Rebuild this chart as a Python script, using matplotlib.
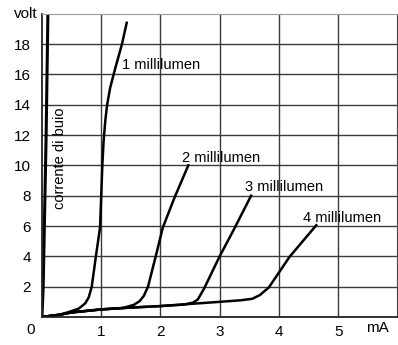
import matplotlib
matplotlib.use("Agg")
import matplotlib.pyplot as plt

plt.rcParams['font.family'] = ['Liberation Sans', 'DejaVu Sans']

# dark current (corrente di buio)
buio_x = [0.0, 0.02, 0.04, 0.07, 0.10]
buio_y = [0.0, 2.0, 6.0, 12.0, 20.0]

# curves, mA vs volt
c1_x = [0.0, 0.3, 0.47, 0.62, 0.73, 0.79, 0.84, 0.91, 0.98, 1.0, 1.02, 1.04, 1.07, 1.1, 1.15, 1.23, 1.35, 1.43]
c1_y = [0.0, 0.15, 0.35, 0.55, 0.9, 1.3, 2.0, 4.0, 5.9, 8.0, 10.1, 11.6, 13.0, 14.0, 15.1, 16.3, 18.0, 19.4]

c2_x = [0.0, 0.3, 0.5, 1.0, 1.37, 1.55, 1.65, 1.72, 1.79, 1.92, 2.04, 2.24, 2.47]
c2_y = [0.0, 0.15, 0.3, 0.5, 0.6, 0.8, 1.05, 1.4, 2.0, 4.0, 5.9, 7.9, 10.0]

c3_x = [0.0, 0.3, 0.5, 1.0, 1.5, 2.0, 2.4, 2.55, 2.63, 2.74, 2.99, 3.25, 3.53]
c3_y = [0.0, 0.15, 0.3, 0.5, 0.62, 0.72, 0.82, 0.95, 1.15, 1.9, 3.93, 5.85, 8.0]

c4_x = [0.0, 0.3, 0.5, 1.0, 1.5, 2.0, 2.5, 3.0, 3.35, 3.55, 3.68, 3.83, 4.18, 4.63]
c4_y = [0.0, 0.15, 0.3, 0.5, 0.62, 0.72, 0.86, 1.0, 1.1, 1.2, 1.45, 1.95, 3.97, 6.05]

labels = ['1 millilumen', '2 millilumen', '3 millilumen', '4 millilumen']
label_x = [1.35, 2.36, 3.43, 4.40]
label_y = [16.6, 10.5, 8.6, 6.5]

xticks = [1, 2, 3, 4, 5]
yticks = [2, 4, 6, 8, 10, 12, 14, 16, 18]
ytick_labels = ['2', '4', '6', '8', '10', '12', '14', '16', '18']

fig = plt.figure(figsize=(3.98, 3.45), dpi=100)
ax = fig.add_axes([0.1055, 0.0812, 0.893, 0.879])

ax.set_xlim(0, 6)
ax.set_ylim(0, 20)
ax.set_xticks(xticks)
ax.set_yticks(yticks)
ax.set_yticklabels(ytick_labels)
ax.grid(True, color='#3a3a3a', lw=1.0)
ax.tick_params(length=0, labelsize=11)
ax.tick_params(axis='y', pad=8)
ax.tick_params(axis='x', pad=6)
for s in ['left', 'bottom']:
    ax.spines[s].set_color('#222222')
    ax.spines[s].set_linewidth(1.3)
ax.spines['top'].set_color('#9a9a9a')
ax.spines['right'].set_color('#444444')

ax.plot(buio_x, buio_y, color='black', lw=2.2)
for xs, ys in [(c1_x, c1_y), (c2_x, c2_y), (c3_x, c3_y), (c4_x, c4_y)]:
    ax.plot(xs, ys, color='black', lw=1.8)

for t, x, y in zip(labels, label_x, label_y):
    ax.text(x, y, t, fontsize=10.5, ha='left', va='center')

ax.text(0.30, 10.5, 'corrente di buio', rotation=90, fontsize=10.5, ha='center', va='center')
ax.text(-0.07, 20.0, 'volt', fontsize=11, ha='right', va='center', clip_on=False)
ax.text(-0.2, -0.85, '0', fontsize=11, ha='center', va='center', clip_on=False)
ax.text(5.67, -0.75, 'mA', fontsize=11, ha='center', va='center', clip_on=False)

fig.savefig('out.png', dpi=100)
